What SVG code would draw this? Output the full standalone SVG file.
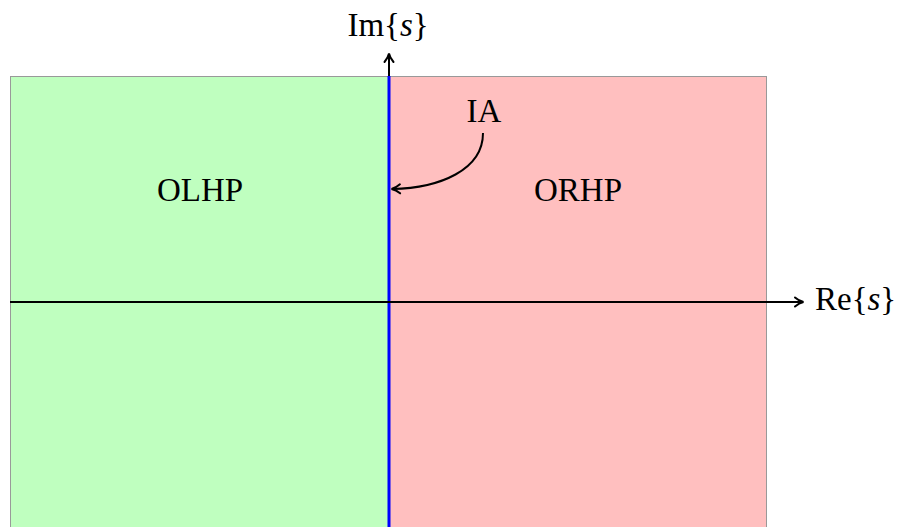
<svg xmlns="http://www.w3.org/2000/svg" width="898" height="527" viewBox="0 0 898 527">
<style>
.lbl{font-family:"Liberation Serif","DejaVu Serif",serif;font-size:33px;fill:#000}
.ax{stroke:#000;stroke-width:2;fill:none}
</style>
<defs>
<marker id="arr2" viewBox="0 0 12 12" refX="10" refY="6" markerWidth="12" markerHeight="12" markerUnits="userSpaceOnUse" orient="auto">
<path d="M2,1.5 Q6,5 10.5,6 Q6,7 2,10.5" fill="none" stroke="#000" stroke-width="2" stroke-linecap="round"/>
</marker>
</defs>
<g id="olhp">
<rect x="10.5" y="76.5" width="378" height="460" fill="#bfffbf" stroke="#999" stroke-width="1"/>
<text class="lbl" x="200" y="201" text-anchor="middle">OLHP</text>
</g>
<g id="orhp">
<rect x="388.5" y="76.5" width="378" height="460" fill="#ffbfbf" stroke="#999" stroke-width="1"/>
<text class="lbl" x="578" y="201" text-anchor="middle">ORHP</text>
</g>
<g id="ia">
<line x1="389" y1="60" x2="389" y2="527" stroke="#000" stroke-width="2"/>
<line x1="389" y1="76" x2="389" y2="527" stroke="#0000ff" stroke-width="3"/>
<text class="lbl" x="484" y="122" text-anchor="middle">IA</text>
</g>
<g id="connectors">
<line class="ax" x1="10" y1="302" x2="803" y2="302" marker-end="url(#arr2)"/>
<line class="ax" x1="389" y1="76" x2="389" y2="54" marker-end="url(#arr2)"/>
<path class="ax" d="M483,133 C483,170 440,188 392,189" marker-end="url(#arr2)"/>
</g>
<g id="labels">
<text class="lbl" x="388" y="36" text-anchor="middle">Im{<tspan font-style="italic">s</tspan>}</text>
<text class="lbl" x="815" y="310">Re{<tspan font-style="italic">s</tspan>}</text>
</g>
</svg>
